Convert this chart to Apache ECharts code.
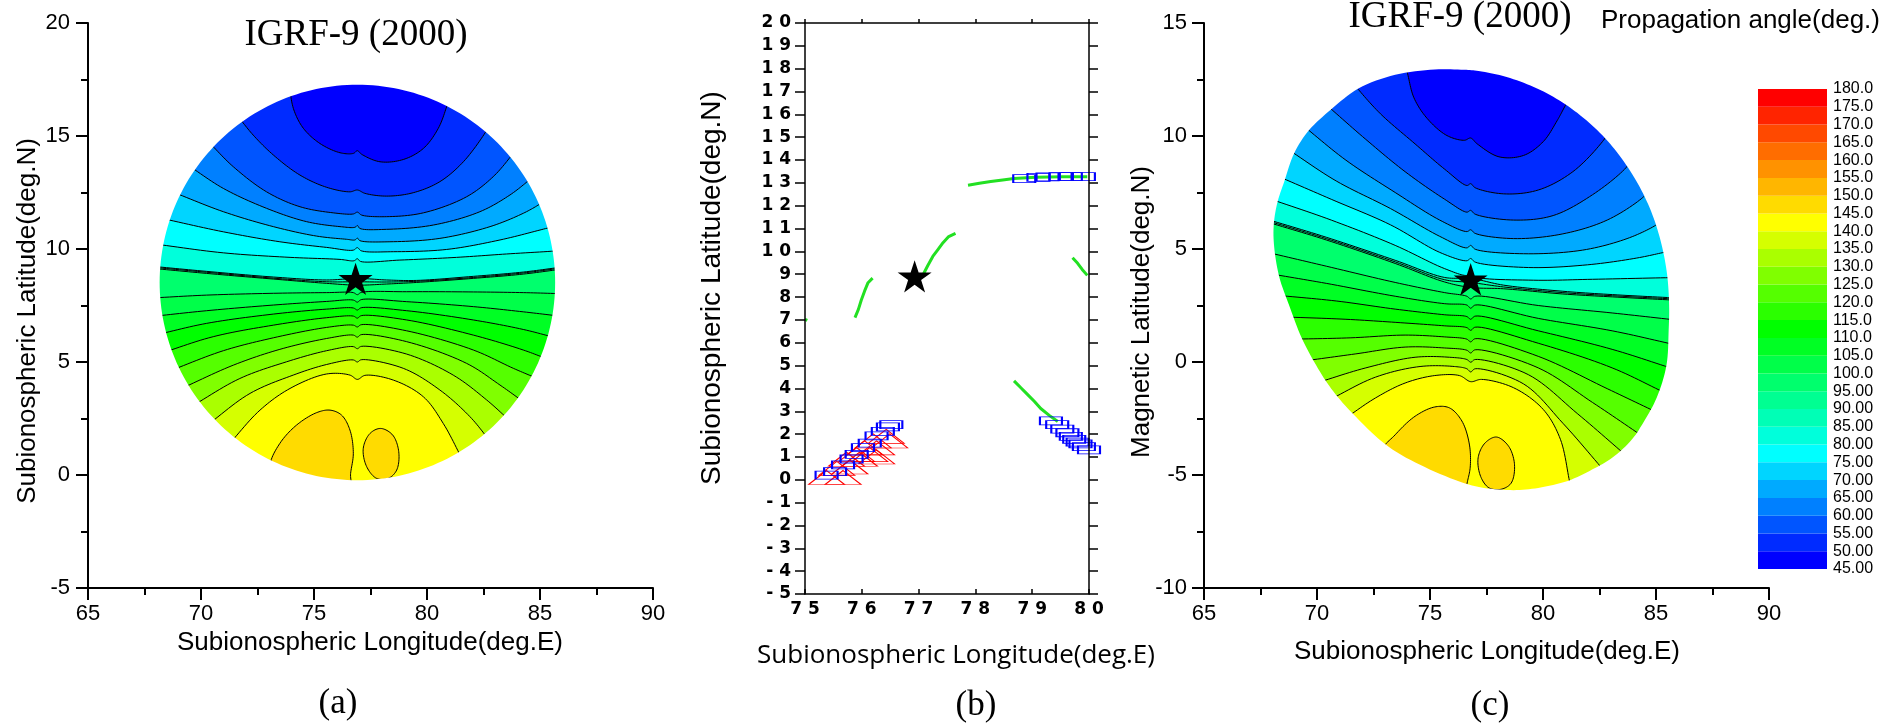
<!DOCTYPE html>
<html>
<head>
<meta charset="utf-8">
<title>Propagation angle maps</title>
<script src="https://cdn.jsdelivr.net/npm/echarts@6.0.0/dist/echarts.min.js"></script>
<style>
  html, body { margin: 0; padding: 0; background: #ffffff; }
  #chart { width: 1893px; height: 724px; }
</style>
</head>
<body>
<div id="chart"></div>
<script>
// ---------------------------------------------------------------------------
// Colour scale: propagation angle levels (deg.), one band every 5 degrees
// ---------------------------------------------------------------------------
const levels = [45, 50, 55, 60, 65, 70, 75, 80, 85, 90, 95, 100, 105, 110, 115,
                120, 125, 130, 135, 140, 145, 150, 155, 160, 165, 170, 175, 180];

// fill of each band, lowest band (45-50) first
const bandColors = ['#0000FF', '#002BFF', '#0055FF', '#0080FF', '#00AAFF', '#00D5FF',
                    '#00FFFF', '#00FFDB', '#00FFB6', '#00FF92', '#00FF6D', '#00FF49',
                    '#00FF24', '#00FF00', '#2BFF00', '#55FF00', '#80FF00', '#AAFF00',
                    '#D5FF00', '#FFFF00', '#FFDB00', '#FFB600', '#FF9200', '#FF6D00',
                    '#FF4900', '#FF2400', '#FF0000'];

// band index of the closed cells (145-150 deg.)
const cellBand = 20;

// ---------------------------------------------------------------------------
// (a) subionospheric latitude / longitude
// contour k separates band k from band k+1 (50, 55, ... 140 deg.)
// ---------------------------------------------------------------------------
const diskCenterA = [76.92, 8.52];
const diskRadiusA = 8.75;

const contoursA = [
  [[73.91,17.11],[74.11,16.15],[74.53,15.34],[75.26,14.67],[76.15,14.26],[76.74,14.23],[76.92,14.35],[77.11,14.19],[77.92,13.86],[78.95,13.96],[79.84,14.45],[80.50,15.34],[80.87,16.30],[81.02,16.81]],
  [[71.65,15.85],[72.31,15.04],[73.20,14.16],[74.38,13.27],[75.56,12.73],[76.59,12.53],[76.92,12.61],[77.26,12.46],[78.21,12.34],[79.39,12.49],[80.57,12.98],[81.61,13.86],[82.57,15.14],[82.71,15.41]],
  [[70.40,14.67],[71.43,13.64],[72.90,12.53],[74.38,11.87],[75.85,11.60],[76.74,11.55],[76.92,11.63],[77.11,11.50],[78.21,11.43],[79.84,11.60],[81.75,12.31],[82.93,13.20],[83.67,14.05],[83.82,14.26]],
  [[69.48,13.67],[70.99,12.68],[72.90,11.80],[74.67,11.21],[76.15,10.99],[76.81,10.96],[76.92,11.04],[77.03,10.91],[78.21,10.87],[80.28,11.06],[82.34,11.65],[83.67,12.39],[84.48,13.02],[84.67,13.20]],
  [[68.83,12.49],[70.99,11.65],[73.20,10.99],[75.12,10.57],[76.44,10.43],[76.81,10.40],[76.92,10.48],[77.03,10.37],[78.36,10.32],[80.57,10.47],[82.79,10.99],[84.26,11.58],[85.00,11.99],[85.22,12.14]],
  [[68.33,11.34],[70.99,10.76],[73.49,10.32],[75.56,10.07],[76.74,9.95],[76.92,10.06],[77.09,9.92],[78.51,9.88],[80.87,9.98],[83.23,10.40],[85.00,10.84],[85.88,11.07]],
  [[67.96,10.22],[70.99,9.83],[73.94,9.63],[76.15,9.54],[76.77,9.48],[76.92,9.57],[77.06,9.45],[78.80,9.51],[81.31,9.63],[83.52,9.78],[85.74,9.92],[85.96,9.95]],
  [[67.89,9.23],[70.25,9.01],[73.20,8.76],[75.56,8.63],[76.92,8.70],[78.21,8.63],[79.54,8.61],[82.05,8.79],[84.26,8.98],[85.96,9.20]],
  [[67.89,9.19],[70.25,8.97],[73.20,8.71],[75.56,8.55],[76.92,8.55],[78.21,8.54],[79.54,8.57],[82.05,8.74],[84.26,8.94],[85.96,9.16]],
  [[67.89,9.14],[70.25,8.92],[73.20,8.67],[75.56,8.48],[76.92,8.40],[78.21,8.45],[79.54,8.52],[82.05,8.70],[84.26,8.89],[85.96,9.11]],
  [[67.79,7.83],[70.25,7.96],[73.20,8.04],[75.56,8.07],[76.74,8.07],[76.92,7.98],[77.09,8.08],[79.10,8.11],[82.05,8.10],[84.26,8.07],[86.06,8.02]],
  [[67.88,7.02],[70.25,7.27],[73.20,7.52],[75.56,7.68],[76.74,7.74],[76.92,7.65],[77.09,7.76],[79.10,7.67],[82.05,7.45],[84.26,7.22],[85.96,7.02]],
  [[68.05,6.21],[70.25,6.71],[73.20,7.12],[75.56,7.34],[76.74,7.39],[76.92,7.30],[77.09,7.40],[79.10,7.27],[82.05,6.86],[84.26,6.44],[85.74,6.06]],
  [[68.30,5.41],[70.54,6.12],[73.20,6.63],[75.56,6.96],[76.74,7.03],[76.92,6.94],[77.09,7.05],[79.10,6.86],[82.05,6.19],[84.26,5.53],[85.41,5.10]],
  [[68.63,4.61],[70.99,5.50],[73.20,6.07],[75.56,6.53],[76.74,6.63],[76.92,6.55],[77.09,6.65],[79.10,6.38],[82.05,5.53],[83.82,4.72],[85.00,4.22]],
  [[69.08,3.80],[71.43,4.86],[73.49,5.56],[75.56,6.04],[76.74,6.19],[76.92,6.10],[77.09,6.21],[79.10,5.90],[81.75,4.94],[83.23,3.98],[84.35,3.18]],
  [[69.59,3.04],[71.72,4.27],[73.79,5.01],[75.56,5.50],[76.74,5.68],[76.92,5.59],[77.09,5.69],[79.10,5.35],[81.16,4.42],[82.64,3.32],[83.70,2.37]],
  [[70.28,2.21],[72.17,3.61],[74.08,4.42],[75.56,4.89],[76.74,5.09],[76.92,5.00],[77.09,5.10],[78.95,4.72],[80.57,3.76],[81.90,2.58],[82.79,1.50]],
  [[71.22,1.34],[72.61,2.87],[73.94,3.83],[75.56,4.47],[76.59,4.42],[76.92,4.23],[77.26,4.41],[78.51,4.20],[79.84,3.46],[80.72,2.28],[81.58,0.66]]
];

const cellsA = [
  [[73.05,0.44],[73.49,1.40],[74.23,2.21],[75.12,2.76],[75.71,2.87],[76.22,2.65],[76.59,1.99],[76.74,0.96],[76.62,0.07],[76.56,-0.67],[73.20,-0.67]],
  [[77.95,2.06],[78.48,1.77],[78.75,1.03],[78.66,0.22],[78.29,-0.15],[77.77,-0.15],[77.33,0.37],[77.18,1.18],[77.48,1.84]]
];

const stationA = [76.84, 8.68];

// ---------------------------------------------------------------------------
// (c) magnetic latitude / subionospheric longitude
// ---------------------------------------------------------------------------
const rimC = [
  [75.21,12.94],[76.52,12.93],[77.15,12.88],[78.39,12.61],[79.59,12.17],[80.73,11.57],[81.78,10.81],[82.74,9.91],
  [83.57,8.88],[84.28,7.74],[84.84,6.52],[85.24,5.22],[85.49,3.88],[85.58,2.52],[85.56,1.40],[85.46,-0.16],
  [85.03,-1.58],[84.48,-2.61],[83.94,-3.42],[83.06,-4.24],[82.19,-4.75],[81.10,-5.26],[79.79,-5.57],[78.70,-5.67],
  [77.39,-5.57],[76.52,-5.36],[74.77,-4.65],[73.14,-3.73],[71.50,-2.20],[70.63,-1.18],[69.97,-0.16],[69.32,1.07],
  [68.77,2.50],[68.34,3.73],[68.12,4.95],[68.08,5.97],[68.23,6.99],[68.56,8.01],[68.99,9.24],[69.65,10.26],
  [70.63,11.18],[71.83,12.10],[73.46,12.71]
];
const rimCenterC = [76.9, 3.6];

const contoursC = [
  [[73.86,13.33],[74.01,12.75],[74.29,11.69],[74.88,10.77],[75.75,10.02],[76.52,9.81],[76.80,9.91],[77.09,9.65],[78.05,9.08],[79.14,9.14],[80.01,9.75],[80.62,10.67],[80.93,11.24],[81.25,11.85]],
  [[71.61,12.34],[71.83,12.06],[72.81,10.98],[74.34,9.65],[75.65,8.53],[76.63,7.81],[76.80,7.89],[77.00,7.71],[78.26,7.44],[79.79,7.61],[81.32,8.42],[82.63,9.75],[83.05,10.40]],
  [[70.41,11.38],[72.16,9.85],[73.90,8.42],[75.65,7.20],[76.63,6.63],[76.80,6.71],[77.00,6.54],[78.70,6.28],[80.45,6.48],[82.19,7.40],[83.61,8.53],[84.00,9.05]],
  [[69.43,10.42],[71.28,8.93],[73.46,7.50],[75.43,6.28],[76.63,5.77],[76.80,5.85],[77.00,5.69],[78.70,5.46],[80.88,5.67],[82.84,6.28],[84.37,7.24],[84.75,7.65]],
  [[68.73,9.40],[70.85,8.01],[73.25,6.79],[75.43,5.56],[76.63,5.05],[76.80,5.16],[77.00,4.99],[79.14,4.79],[81.75,4.95],[83.72,5.46],[84.92,6.01],[85.25,6.25]],
  [[68.27,8.22],[70.63,7.20],[73.25,6.07],[75.43,4.85],[76.63,4.48],[76.80,4.58],[77.00,4.42],[79.35,4.18],[81.97,4.30],[84.15,4.60],[85.35,4.85],[85.64,4.91]],
  [[67.97,7.20],[70.63,6.28],[73.46,5.16],[75.65,4.13],[76.63,3.83],[76.80,3.93],[77.00,3.77],[79.57,3.62],[82.19,3.66],[85.57,3.73],[85.90,3.73]],
  [[67.84,6.30],[70.41,5.52],[73.46,4.50],[75.65,3.74],[76.80,3.70],[78.26,3.40],[80.88,3.13],[83.28,2.97],[85.96,2.83]],
  [[67.84,6.24],[70.41,5.46],[73.46,4.43],[75.65,3.64],[76.80,3.52],[78.26,3.32],[80.88,3.07],[83.28,2.92],[85.96,2.78]],
  [[67.84,6.18],[70.41,5.40],[73.46,4.36],[75.65,3.54],[76.80,3.30],[78.26,3.24],[80.88,3.01],[83.28,2.87],[85.96,2.73]],
  [[67.90,4.83],[70.41,4.24],[73.46,3.52],[75.65,3.07],[76.63,2.91],[76.80,2.79],[77.00,2.91],[79.79,2.50],[83.06,2.17],[85.96,1.85]],
  [[68.01,3.89],[70.41,3.48],[73.46,2.91],[75.65,2.58],[76.63,2.52],[76.80,2.38],[77.00,2.52],[79.79,1.93],[83.06,1.38],[85.86,0.76]],
  [[68.25,2.95],[70.85,2.70],[73.46,2.34],[75.65,2.09],[76.63,2.01],[76.80,1.89],[77.00,2.03],[79.79,1.38],[83.06,0.56],[85.64,-0.26]],
  [[68.62,1.99],[71.28,1.89],[73.68,1.74],[75.65,1.60],[76.63,1.52],[76.80,1.40],[77.00,1.54],[79.79,0.83],[83.06,-0.26],[85.35,-1.34]],
  [[68.99,1.01],[71.50,1.07],[73.90,1.19],[75.65,1.11],[76.63,1.01],[76.80,0.89],[77.00,1.03],[79.79,0.25],[82.84,-1.18],[84.98,-2.20]],
  [[69.45,0.05],[71.72,0.36],[73.90,0.66],[75.65,0.62],[76.63,0.52],[76.80,0.40],[77.00,0.54],[79.79,-0.26],[82.19,-1.79],[84.31,-3.22]],
  [[69.97,-0.93],[72.16,-0.26],[74.34,0.21],[75.86,0.21],[76.63,0.11],[76.80,-0.01],[77.00,0.11],[79.35,-0.56],[81.54,-2.30],[83.61,-4.08]],
  [[70.52,-1.69],[72.59,-0.67],[74.56,-0.20],[76.08,-0.20],[76.63,-0.30],[76.80,-0.44],[77.00,-0.30],[79.14,-0.97],[80.88,-2.71],[82.74,-4.85]],
  [[71.24,-2.50],[72.59,-1.59],[73.90,-0.93],[75.21,-0.60],[76.30,-0.60],[76.80,-0.87],[77.28,-0.77],[78.70,-1.14],[80.01,-2.10],[80.77,-3.42],[81.17,-5.26],[81.27,-5.67]]
];

const cellsC = [
  [[72.81,-4.04],[73.46,-3.22],[74.34,-2.40],[75.21,-1.99],[75.86,-2.03],[76.41,-2.61],[76.74,-3.63],[76.78,-4.65],[76.63,-5.42],[76.52,-6.08],[73.46,-6.08]],
  [[77.94,-3.32],[78.48,-3.73],[78.74,-4.55],[78.59,-5.36],[78.15,-5.63],[77.61,-5.57],[77.24,-5.06],[77.13,-4.24],[77.43,-3.59]]
];

const stationC = [76.80, 3.66];

// ---------------------------------------------------------------------------
// (b) ray end points around the station
// ---------------------------------------------------------------------------
const greenTracks = [
  [[75.00,7.02],[75.04,6.98]],
  [[75.88,7.10],[75.94,7.46],[75.99,7.86],[76.05,8.27],[76.11,8.63],[76.19,8.83]],
  [[77.09,9.03],[77.16,9.37],[77.25,9.78],[77.34,10.08],[77.43,10.38],[77.53,10.65],[77.65,10.79]],
  [[77.87,12.90],[78.07,12.98],[78.27,13.06],[78.48,13.13],[78.68,13.19],[79.06,13.25],[79.53,13.27],[79.97,13.27]],
  [[79.71,9.72],[79.80,9.48],[79.88,9.21],[79.97,8.95]],
  [[78.68,4.33],[78.80,4.03],[78.92,3.73],[79.04,3.43],[79.15,3.12],[79.30,2.82],[79.45,2.55]]
];

const blueBoxes = [
  [78.86,13.19],[79.11,13.24],[79.27,13.26],[79.50,13.27],[79.68,13.27],[79.91,13.27],
  [79.33,2.58],[79.44,2.42],[79.53,2.22],[79.62,2.06],[79.68,1.90],[79.74,1.77],[79.80,1.65],[79.85,1.57],[79.91,1.45],[80.00,1.31],
  [75.38,0.20],[75.53,0.36],[75.67,0.65],[75.82,0.91],[75.91,1.11],[76.02,1.41],[76.14,1.61],[76.26,1.92],[76.37,2.12],[76.46,2.32],[76.52,2.42]
];

const redTriangles = [
  [75.38,0.10],[75.67,0.10],[75.56,0.50],[75.79,0.56],[75.73,0.90],[75.96,0.90],[75.91,1.10],
  [76.14,1.10],[76.26,1.00],[76.05,1.40],[76.26,1.40],[76.20,1.70],[76.49,1.70],[76.43,1.90]
];

const stationB = [76.93, 8.91];

// ---------------------------------------------------------------------------
// drawing helpers
// ---------------------------------------------------------------------------
const STAR = 'path://M50 0 L61.2 34.5 L97.6 34.5 L68.2 55.9 L79.4 90.5 L50 69.1 L20.6 90.5 L31.8 55.9 L2.4 34.5 L38.8 34.5 Z';

// centripetal Catmull-Rom curve through pixel points
function spline(pts, closed, steps) {
  const n = pts.length;
  if (n < 3) return pts.slice();
  const at = i => {
    if (closed) return pts[((i % n) + n) % n];
    if (i < 0) return [2 * pts[0][0] - pts[1][0], 2 * pts[0][1] - pts[1][1]];
    if (i > n - 1) return [2 * pts[n - 1][0] - pts[n - 2][0], 2 * pts[n - 1][1] - pts[n - 2][1]];
    return pts[i];
  };
  const knot = (a, b) => Math.max(Math.sqrt(Math.hypot(b[0] - a[0], b[1] - a[1])), 1e-3);
  const mix = (a, b, ta, tb, t) => {
    const u = (t - ta) / (tb - ta);
    return [a[0] + (b[0] - a[0]) * u, a[1] + (b[1] - a[1]) * u];
  };
  const out = [];
  const segs = closed ? n : n - 1;
  for (let i = 0; i < segs; i++) {
    const p0 = at(i - 1), p1 = at(i), p2 = at(i + 1), p3 = at(i + 2);
    const t0 = 0, t1 = t0 + knot(p0, p1), t2 = t1 + knot(p1, p2), t3 = t2 + knot(p2, p3);
    for (let s = 0; s < steps; s++) {
      const t = t1 + (t2 - t1) * s / steps;
      const a1 = mix(p0, p1, t0, t1, t), a2 = mix(p1, p2, t1, t2, t), a3 = mix(p2, p3, t2, t3, t);
      const b1 = mix(a1, a2, t0, t2, t), b2 = mix(a2, a3, t1, t3, t);
      out.push(mix(b1, b2, t1, t2, t));
    }
  }
  if (!closed) out.push(pts[n - 1]);
  return out;
}

function ring(c, R, N) {
  const out = [];
  for (let i = 0; i < N; i++) {
    const t = 2 * Math.PI * i / N;
    out.push([c[0] + R * Math.cos(t), c[1] + R * Math.sin(t)]);
  }
  return out;
}

// region lying on the high-angle side of a contour: the contour plus a
// wide arc around the lower part of the map (outside the covered area)
function underLine(line, c, R) {
  const a = line[line.length - 1], b = line[0];
  const tEnd = Math.atan2(a[1] - c[1], a[0] - c[0]);
  let tStart = Math.atan2(b[1] - c[1], b[0] - c[0]);
  if (tStart < tEnd) tStart += 2 * Math.PI;
  const arc = [];
  const N = 90;
  for (let s = 0; s <= N; s++) {
    const t = tEnd + (tStart - tEnd) * s / N;
    arc.push([c[0] + R * Math.cos(t), c[1] + R * Math.sin(t)]);
  }
  return line.concat(arc);
}

function signedArea(p) {
  let s = 0;
  for (let i = 0; i < p.length; i++) {
    const q = p[(i + 1) % p.length];
    s += p[i][0] * q[1] - q[0] * p[i][1];
  }
  return s / 2;
}

// filled contour map: bands, contour lines, and a white frame around the covered area
function contourMap(axisX, axisY, lines, cells, center, outerPx, holeOf) {
  const toPx = (api, list) => list.map(p => api.coord(p));
  const fillItems = [];
  for (let k = 0; k <= lines.length + cells.length; k++) fillItems.push([center[0], center[1], k]);
  const strokeItems = lines.concat(cells).map((_, i) => [center[0], center[1], i]);
  const common = { type: 'custom', coordinateSystem: 'cartesian2d', xAxisIndex: axisX, yAxisIndex: axisY, silent: true, clip: false };
  return [
    Object.assign({}, common, {
      z: 1, data: fillItems,
      renderItem(params, api) {
        const k = params.dataIndex;
        const c = api.coord(center);
        let pts, band;
        if (k === 0) { pts = ring(c, outerPx, 160); band = 0; }
        else if (k <= lines.length) { pts = underLine(spline(toPx(api, lines[k - 1]), false, 12), c, outerPx); band = k; }
        else { pts = spline(toPx(api, cells[k - 1 - lines.length]), true, 12); band = cellBand; }
        return { type: 'polygon', shape: { points: pts }, style: { fill: bandColors[band] } };
      }
    }),
    Object.assign({}, common, {
      z: 2, data: strokeItems,
      renderItem(params, api) {
        const k = params.dataIndex;
        let pts;
        if (k < lines.length) pts = spline(toPx(api, lines[k]), false, 12);
        else { pts = spline(toPx(api, cells[k - lines.length]), true, 12); pts.push(pts[0]); }
        return { type: 'polyline', shape: { points: pts }, style: { stroke: '#000', lineWidth: 1, fill: null } };
      }
    }),
    Object.assign({}, common, {
      z: 3, data: [[center[0], center[1]]],
      renderItem(params, api) {
        const r = params.coordSys;
        const outer = [[r.x, r.y], [r.x + r.width, r.y], [r.x + r.width, r.y + r.height], [r.x, r.y + r.height]];
        let hole = holeOf(api);
        if (signedArea(hole) * signedArea(outer) > 0) hole = hole.slice().reverse();
        const sub = list => 'M ' + list.map(p => p[0].toFixed(2) + ' ' + p[1].toFixed(2)).join(' L ') + ' Z';
        return {
          type: 'path',
          shape: { pathData: sub(outer) + ' ' + sub(hole), x: r.x, y: r.y, width: r.width, height: r.height, layout: 'cover' },
          style: { fill: '#ffffff' }
        };
      }
    })
  ];
}

function mapAxis(gridIndex, min, max, margin) {
  return {
    gridIndex, type: 'value', min, max, interval: 5, z: 6,
    axisLine: { show: true, onZero: false, lineStyle: { color: '#000', width: 2 } },
    axisTick: { show: true, inside: false, length: 12, lineStyle: { color: '#000', width: 2 } },
    minorTick: { show: true, splitNumber: 2, length: 7, lineStyle: { color: '#000', width: 2 } },
    axisLabel: { color: '#000', fontSize: 22, fontFamily: 'Liberation Sans', margin, showMinLabel: true, showMaxLabel: true },
    splitLine: { show: false }, minorSplitLine: { show: false }
  };
}

const spaced = v => String(v).split('').join(' ');
const bFrame = { show: true, onZero: false, lineStyle: { color: '#000', width: 1.5 } };
const bLabel = { color: '#000', fontFamily: 'DejaVu Sans', fontWeight: 'bold', fontSize: 17, formatter: spaced, showMinLabel: true, showMaxLabel: true };

function text(str, x, y, font, rotation) {
  return {
    type: 'text', x, y, z: 20, silent: true, rotation: rotation || 0,
    style: { text: str, font, fill: '#000', align: 'center', verticalAlign: 'middle' }
  };
}

const starSeries = (xi, yi, point) => ({
  type: 'scatter', xAxisIndex: xi, yAxisIndex: yi, z: 5, silent: true,
  symbol: STAR, symbolSize: 34, symbolKeepAspect: true,
  itemStyle: { color: '#000', opacity: 1 }, data: [point]
});

const chart = echarts.init(document.getElementById('chart'), null, { renderer: 'canvas' });

const option = {
  animation: false,
  backgroundColor: '#ffffff',
  textStyle: { fontFamily: 'Liberation Sans', color: '#000' },
  grid: [
    { left: 88, top: 23, width: 565, height: 565 },
    { left: 805, top: 23, width: 284, height: 571 },
    { left: 1204, top: 23, width: 565, height: 565 },
    { left: 1758, top: 89, width: 69, height: 480 }
  ],
  xAxis: [
    mapAxis(0, 65, 90, 15),
    { gridIndex: 1, type: 'value', min: 75, max: 80, interval: 1, position: 'bottom', z: 6,
      axisLine: bFrame, axisTick: { show: true, inside: true, length: 5, lineStyle: { color: '#000', width: 1.5 } },
      axisLabel: Object.assign({ margin: 7 }, bLabel), splitLine: { show: false } },
    { gridIndex: 1, type: 'value', min: 75, max: 80, interval: 1, position: 'top', z: 6,
      axisLine: bFrame, axisTick: { show: true, inside: false, length: 4, lineStyle: { color: '#000', width: 1.5 } },
      axisLabel: { show: false }, splitLine: { show: false } },
    mapAxis(2, 65, 90, 15),
    { gridIndex: 3, type: 'value', min: 0, max: 1, show: false }
  ],
  yAxis: [
    mapAxis(0, -5, 20, 18),
    { gridIndex: 1, type: 'value', min: -5, max: 20, interval: 1, position: 'left', z: 6,
      axisLine: bFrame, axisTick: { show: true, inside: false, length: 10, lineStyle: { color: '#000', width: 1.5 } },
      axisLabel: Object.assign({ margin: 14 }, bLabel), splitLine: { show: false } },
    { gridIndex: 1, type: 'value', min: -5, max: 20, interval: 1, position: 'right', z: 6,
      axisLine: bFrame, axisTick: { show: true, inside: false, length: 9, lineStyle: { color: '#000', width: 1.5 } },
      axisLabel: { show: false }, splitLine: { show: false } },
    mapAxis(2, -10, 15, 17),
    { gridIndex: 3, type: 'value', min: 45, max: 180, interval: 5, position: 'right',
      axisLine: { show: false }, axisTick: { show: false }, splitLine: { show: false },
      axisLabel: { color: '#000', fontSize: 16, fontFamily: 'Liberation Sans', margin: 6, showMinLabel: true, showMaxLabel: true,
                   formatter: v => (v >= 100 ? v.toFixed(1) : v.toFixed(2)) } }
  ],
  series: [
    // (a)
    ...contourMap(0, 0, contoursA, cellsA, diskCenterA, 235,
      api => ring(api.coord(diskCenterA), api.size([diskRadiusA, 0])[0], 240)),
    starSeries(0, 0, stationA),
    // (c)
    ...contourMap(3, 3, contoursC, cellsC, rimCenterC, 250,
      api => spline(rimC.map(p => api.coord(p)), true, 8)),
    starSeries(3, 3, stationC),
    // (b)
    ...greenTracks.map(track => ({
      type: 'line', xAxisIndex: 1, yAxisIndex: 1, z: 3, silent: true, showSymbol: false, clip: false,
      lineStyle: { color: '#22e022', width: 3, opacity: 1 }, data: track
    })),
    { type: 'scatter', xAxisIndex: 1, yAxisIndex: 1, z: 3, silent: true, clip: false,
      symbol: 'triangle', symbolSize: [36, 14],
      itemStyle: { color: 'rgba(0,0,0,0)', borderColor: '#ff0000', borderWidth: 1, opacity: 1 }, data: redTriangles },
    { type: 'scatter', xAxisIndex: 1, yAxisIndex: 1, z: 4, silent: true, clip: false,
      symbol: 'rect', symbolSize: [22, 8],
      itemStyle: { color: 'rgba(0,0,0,0)', borderColor: '#0000ff', borderWidth: 1.3, opacity: 1 }, data: blueBoxes },
    starSeries(1, 1, stationB),
    // colour bar
    { type: 'custom', coordinateSystem: 'cartesian2d', xAxisIndex: 4, yAxisIndex: 4, z: 8, silent: true,
      data: levels.slice(0, -1).map((v, i) => [0, v, levels[i + 1]]),
      renderItem(params, api) {
        const lo = api.coord([0, api.value(1)]);
        const hi = api.coord([1, api.value(2)]);
        return { type: 'rect', shape: { x: lo[0], y: hi[1], width: hi[0] - lo[0], height: lo[1] - hi[1] },
                 style: { fill: bandColors[params.dataIndex] } };
      } }
  ],
  graphic: [
    text('IGRF-9 (2000)', 356, 35, "37px 'Liberation Serif'"),
    text('IGRF-9 (2000)', 1460, 17, "37px 'Liberation Serif'"),
    { type: 'text', x: 1601, y: 21, z: 20, silent: true,
      style: { text: 'Propagation angle(deg.)', font: "26px 'Liberation Sans'", fill: '#000', align: 'left', verticalAlign: 'middle' } },
    text('Subionospheric Latitude(deg.N)', 28, 321, "26px 'Liberation Sans'", Math.PI / 2),
    text('Subionospheric Longitude(deg.E)', 370, 643, "26px 'Liberation Sans'"),
    text('Subionospheric Latitude(deg.N)', 712, 288, "28px 'Liberation Sans'", Math.PI / 2),
    text('Subionospheric Longitude(deg.E)', 956, 656, "26px 'Open Sans'"),
    text('Magnetic Latitude(deg.N)', 1142, 312, "26px 'Liberation Sans'", Math.PI / 2),
    text('Subionospheric Longitude(deg.E)', 1487, 652, "26px 'Liberation Sans'"),
    text('(a)', 338, 704, "35px 'Liberation Serif'"),
    text('(b)', 976, 706, "35px 'Liberation Serif'"),
    text('(c)', 1490, 706, "35px 'Liberation Serif'")
  ]
};

chart.setOption(option);
</script>
</body>
</html>
